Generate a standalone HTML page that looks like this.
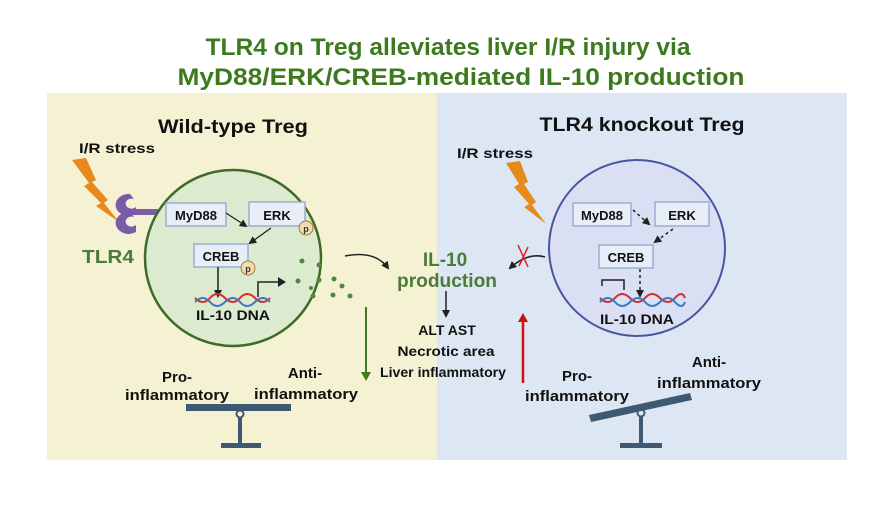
<!DOCTYPE html>
<html><head><meta charset="utf-8"><style>
html,body{margin:0;padding:0;background:#fff;}
svg{display:block;}
text{font-family:"Liberation Sans",sans-serif;font-weight:bold;}
</style></head><body>
<svg width="890" height="510" viewBox="0 0 890 510" xmlns="http://www.w3.org/2000/svg">
<defs>
<marker id="ah" markerWidth="8" markerHeight="8" refX="6" refY="4" orient="auto" markerUnits="userSpaceOnUse"><path d="M0,0 L8,4 L0,8 z" fill="#222"/></marker>
<marker id="ahg" markerWidth="10" markerHeight="10" refX="6" refY="5" orient="auto" markerUnits="userSpaceOnUse"><path d="M0,0 L9,5 L0,10 z" fill="#3f7a22"/></marker>
<marker id="ahr" markerWidth="10" markerHeight="10" refX="6" refY="5" orient="auto" markerUnits="userSpaceOnUse"><path d="M0,0 L9,5 L0,10 z" fill="#d01010"/></marker>
</defs>
<rect width="890" height="510" fill="#fff"/>
<text x="448" y="55" text-anchor="middle" font-size="24" fill="#3d7a1e" textLength="485" lengthAdjust="spacingAndGlyphs">TLR4 on Treg alleviates liver I/R injury via</text>
<text x="461" y="85" text-anchor="middle" font-size="24" fill="#3d7a1e" textLength="567" lengthAdjust="spacingAndGlyphs">MyD88/ERK/CREB-mediated IL-10 production</text>
<rect x="47" y="93" width="390" height="367" fill="#f4f2d3"/>
<rect x="437" y="93" width="410" height="367" fill="#dde7f4"/>

<text x="233" y="133" text-anchor="middle" font-size="19" fill="#111" textLength="150" lengthAdjust="spacingAndGlyphs">Wild-type Treg</text>
<text x="79" y="153" font-size="14" fill="#111" textLength="76" lengthAdjust="spacingAndGlyphs">I/R stress</text>
<path d="M72,160 L86,158 L96,180 L92,182 L108,200 L104,203 L119,222 L96,206 L101,203 L84,186 L89,183 z" fill="#e68a1e"/>
<g fill="#7a5ba8">
<path d="M130,194 a13,11 0 1 0 6,20 l0,-7 a6,5 0 1 1 -2,-8 z"/>
<path d="M130,212 a13,11 0 1 0 6,20 l0,-7 a6,5 0 1 1 -2,-8 z"/>
<rect x="133" y="209" width="36" height="6"/>
</g>
<text x="82" y="263" font-size="18" fill="#4b7a3a" textLength="52" lengthAdjust="spacingAndGlyphs">TLR4</text>
<circle cx="233" cy="258" r="88" fill="#dcebd0" stroke="#3f6a28" stroke-width="2.5"/>
<rect x="166" y="203" width="60" height="23" fill="#e8eef8" stroke="#9aaed0" stroke-width="1.5"/>
<text x="196" y="220" text-anchor="middle" font-size="13" fill="#111">MyD88</text>
<rect x="249" y="202" width="56" height="24" fill="#e8eef8" stroke="#9aaed0" stroke-width="1.5"/>
<text x="277" y="220" text-anchor="middle" font-size="13" fill="#111">ERK</text>
<circle cx="306" cy="228" r="7" fill="#f0dcb0" stroke="#a07a3a"/>
<text x="306" y="232" text-anchor="middle" font-size="9" fill="#333">p</text>
<rect x="194" y="244" width="54" height="23" fill="#e8eef8" stroke="#9aaed0" stroke-width="1.5"/>
<text x="221" y="261" text-anchor="middle" font-size="13" fill="#111">CREB</text>
<circle cx="248" cy="268" r="7" fill="#f0dcb0" stroke="#a07a3a"/>
<text x="248" y="272" text-anchor="middle" font-size="9" fill="#333">p</text>
<line x1="226" y1="213" x2="246" y2="226" stroke="#222" stroke-width="1.3" marker-end="url(#ah)"/>
<line x1="271" y1="228" x2="250" y2="243" stroke="#222" stroke-width="1.3" marker-end="url(#ah)"/>
<line x1="218" y1="267" x2="218" y2="296" stroke="#222" stroke-width="1.5" marker-end="url(#ah)"/>
<path d="M258,297 L258,282 L278,282" fill="none" stroke="#222" stroke-width="1.5"/>
<path d="M278,277 L286,282 L278,287 z" fill="#222"/>
<path d="M195,298 q8,8 15,0 t15,0 t15,0 t15,0 t15,0" fill="none" stroke="#d03030" stroke-width="2"/>
<path d="M195,298 q8,-8 15,0 t15,0 t15,0 t15,0 t15,0" fill="none" stroke="#3a7ac0" stroke-width="2" transform="translate(0,4)"/>
<text x="233" y="320" text-anchor="middle" font-size="14" fill="#111" textLength="74" lengthAdjust="spacingAndGlyphs">IL-10 DNA</text>
<g fill="#4b8a3a">
<circle cx="302" cy="261" r="2.5"/><circle cx="319" cy="265" r="2.5"/><circle cx="298" cy="281" r="2.5"/><circle cx="319" cy="280" r="2.5"/><circle cx="334" cy="279" r="2.5"/><circle cx="342" cy="286" r="2.5"/><circle cx="313" cy="296" r="2.5"/><circle cx="333" cy="295" r="2.5"/><circle cx="350" cy="296" r="2.5"/><circle cx="311" cy="288" r="2"/>
</g>
<path d="M345,256 Q375,250 388,268" fill="none" stroke="#222" stroke-width="1.5" marker-end="url(#ah)"/>
<line x1="366" y1="307" x2="366" y2="378" stroke="#3f7a22" stroke-width="2" marker-end="url(#ahg)"/>
<text x="177" y="382" text-anchor="middle" font-size="15" fill="#111">Pro-</text>
<text x="177" y="400" text-anchor="middle" font-size="15" fill="#111" textLength="104" lengthAdjust="spacingAndGlyphs">inflammatory</text>
<text x="305" y="378" text-anchor="middle" font-size="15" fill="#111">Anti-</text>
<text x="306" y="399" text-anchor="middle" font-size="15" fill="#111" textLength="104" lengthAdjust="spacingAndGlyphs">inflammatory</text>
<rect x="186" y="404" width="105" height="7" fill="#3d5a72"/>
<circle cx="240" cy="414" r="3.5" fill="none" stroke="#3d5a72" stroke-width="2"/>
<rect x="238" y="417" width="4" height="28" fill="#3d5a72"/>
<rect x="221" y="443" width="40" height="5" fill="#3d5a72"/>

<text x="445" y="266" text-anchor="middle" font-size="19" fill="#4b7a3a">IL-10</text>
<text x="447" y="287" text-anchor="middle" font-size="19" fill="#4b7a3a" textLength="100" lengthAdjust="spacingAndGlyphs">production</text>
<line x1="446" y1="291" x2="446" y2="316" stroke="#222" stroke-width="1.5" marker-end="url(#ah)"/>
<text x="447" y="335" text-anchor="middle" font-size="14" fill="#111">ALT AST</text>
<text x="446" y="356" text-anchor="middle" font-size="14" fill="#111" textLength="97" lengthAdjust="spacingAndGlyphs">Necrotic area</text>
<text x="443" y="377" text-anchor="middle" font-size="14" fill="#111" textLength="126" lengthAdjust="spacingAndGlyphs">Liver inflammatory</text>
<line x1="523" y1="383" x2="523" y2="316" stroke="#d01010" stroke-width="2.5" marker-end="url(#ahr)"/>
<path d="M545,257 Q528,252 510,268" fill="none" stroke="#222" stroke-width="1.5" marker-end="url(#ah)"/>
<path d="M518,245 L528,267 M528,247 L519,266" stroke="#e02020" stroke-width="1.5"/>

<text x="642" y="131" text-anchor="middle" font-size="19" fill="#111" textLength="205" lengthAdjust="spacingAndGlyphs">TLR4 knockout Treg</text>
<text x="457" y="158" font-size="14" fill="#111" textLength="76" lengthAdjust="spacingAndGlyphs">I/R stress</text>
<path d="M506,163 L520,161 L528,182 L524,184 L536,202 L532,205 L546,224 L524,207 L529,204 L514,187 L519,184 z" fill="#e68a1e"/>
<circle cx="637" cy="248" r="88" fill="#dadff3" stroke="#4a55a0" stroke-width="2"/>
<rect x="573" y="203" width="58" height="23" fill="#e8eef8" stroke="#9aaed0" stroke-width="1.5"/>
<text x="602" y="220" text-anchor="middle" font-size="13" fill="#111">MyD88</text>
<rect x="655" y="202" width="54" height="24" fill="#e8eef8" stroke="#9aaed0" stroke-width="1.5"/>
<text x="682" y="220" text-anchor="middle" font-size="13" fill="#111">ERK</text>
<rect x="599" y="245" width="54" height="23" fill="#e8eef8" stroke="#9aaed0" stroke-width="1.5"/>
<text x="626" y="262" text-anchor="middle" font-size="13" fill="#111">CREB</text>
<line x1="633" y1="210" x2="649" y2="224" stroke="#222" stroke-width="1.5" stroke-dasharray="3,3" marker-end="url(#ah)"/>
<line x1="673" y1="229" x2="655" y2="242" stroke="#222" stroke-width="1.5" stroke-dasharray="3,3" marker-end="url(#ah)"/>
<line x1="640" y1="269" x2="640" y2="296" stroke="#222" stroke-width="1.5" stroke-dasharray="3,3" marker-end="url(#ah)"/>
<path d="M602,286 L602,280 L624,280 L624,290" fill="none" stroke="#222" stroke-width="1.5"/>
<path d="M600,298 q8,8 15,0 t15,0 t15,0 t15,0 t15,0 t10,0" fill="none" stroke="#d03030" stroke-width="2"/>
<path d="M600,298 q8,-8 15,0 t15,0 t15,0 t15,0 t15,0 t10,0" fill="none" stroke="#3a7ac0" stroke-width="2" transform="translate(0,4)"/>
<text x="637" y="324" text-anchor="middle" font-size="14" fill="#111" textLength="74" lengthAdjust="spacingAndGlyphs">IL-10 DNA</text>
<text x="577" y="381" text-anchor="middle" font-size="15" fill="#111">Pro-</text>
<text x="577" y="401" text-anchor="middle" font-size="15" fill="#111" textLength="104" lengthAdjust="spacingAndGlyphs">inflammatory</text>
<text x="709" y="367" text-anchor="middle" font-size="15" fill="#111">Anti-</text>
<text x="709" y="388" text-anchor="middle" font-size="15" fill="#111" textLength="104" lengthAdjust="spacingAndGlyphs">inflammatory</text>
<path d="M589,415 L690,393 L692,400 L591,422 z" fill="#3d5a72"/>
<circle cx="641" cy="413" r="3.5" fill="none" stroke="#3d5a72" stroke-width="2"/>
<rect x="639" y="416" width="4" height="29" fill="#3d5a72"/>
<rect x="620" y="443" width="42" height="5" fill="#3d5a72"/>
</svg>
</body></html>
